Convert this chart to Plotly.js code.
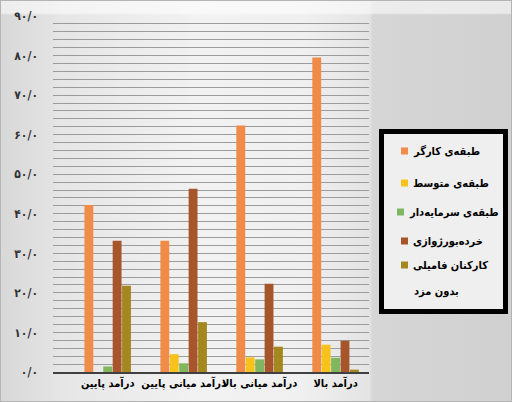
<!DOCTYPE html>
<html>
<head>
<meta charset="utf-8">
<script src="https://cdn.plot.ly/plotly-3.0.1.min.js"></script>
<style>
  html, body { margin: 0; padding: 0; }
  #chart {
    width: 512px; height: 402px; box-sizing: border-box;
    border: 1px solid #b4b4b4;
    background:
      linear-gradient(to bottom, rgba(255,255,255,0.55) 0px, rgba(255,255,255,0.55) 12px, rgba(255,255,255,0) 14px),
      linear-gradient(to right, #d8d8d8 0px, #e2e2e2 48px, #e6e6e6 60px, #f2f2f2 200px, #f0f0f0 300px, #e4e4e4 368px, #d6d6d6 372px, #d0d0d0 512px);
  }
</style>
</head>
<body>
<div id="chart"></div>
<script>
  // ── Datos ────────────────────────────────────────────────────────────────
  const categories = ['درآمد پایین', 'درآمد میانی پایین', 'درآمد میانی بالا', 'درآمد بالا'];

  const seriesNames = [
    'طبقه‌ی کارگر',
    'طبقه‌ی متوسط',
    'طبقه‌ی سرمایه‌دار',
    'خرده‌بورژوازی',
    'کارکنان فامیلی بدون مزد',
  ];
  // el último nombre se parte en dos líneas en la leyenda
  const legendLines = [
    ['طبقه‌ی کارگر'],
    ['طبقه‌ی متوسط'],
    ['طبقه‌ی سرمایه‌دار'],
    ['خرده‌بورژوازی'],
    ['کارکنان فامیلی', 'بدون مزد'],
  ];

  const kargar       = [42.2, 33.2, 62.3, 79.5];
  const motavaset    = [0.0, 4.5, 3.7, 6.9];
  const sarmayedar   = [1.4, 2.2, 3.2, 3.6];
  const khordeh      = [33.2, 46.3, 22.3, 7.9];
  const familyUnpaid = [21.8, 12.6, 6.4, 0.6];

  const tickVals = [0, 10, 20, 30, 40, 50, 60, 70, 80, 90];
  const tickText = ['۰/۰', '۱۰/۰', '۲۰/۰', '۳۰/۰', '۴۰/۰', '۵۰/۰', '۶۰/۰', '۷۰/۰', '۸۰/۰', '۹۰/۰'];

  // ── Estilo ───────────────────────────────────────────────────────────────
  const COLORS = ['#f08b48', '#f8c21c', '#80b75e', '#a6562a', '#a4871f'];
  const FONT = 'DejaVu Sans Condensed, DejaVu Sans, sans-serif';
  const GRID = '#9c9c9c';

  // área de trazado en píxeles (para colocar la leyenda a mano)
  const PLOT = { l: 52, r: 368, t: 15, b: 371 };
  const px2x = (px) => (px - PLOT.l) / (PLOT.r - PLOT.l);
  const px2y = (py) => (PLOT.b - py) / (PLOT.b - PLOT.t);

  const values = [kargar, motavaset, sarmayedar, khordeh, familyUnpaid];

  const traces = values.map((v, i) => ({
    type: 'bar',
    name: seriesNames[i],
    x: categories,
    y: v,
    marker: { color: COLORS[i], line: { width: 0 } },
    hoverinfo: 'skip',
  }));

  // ── Leyenda dibujada a mano (cuadro negro, texto RTL) ────────────────────
  const LEG_ROWS = [150, 182, 211, 240, 264];
  const LEG_LINE2 = 290;
  const shapes = [{
    type: 'rect', xref: 'paper', yref: 'paper',
    x0: px2x(380.5), x1: px2x(504.5), y0: px2y(310.5), y1: px2y(130.5),
    line: { color: '#000', width: 5 }, fillcolor: '#efefef', layer: 'above',
  }];
  const annotations = [];
  legendLines.forEach((lines, i) => {
    const cy = LEG_ROWS[i];
    const sx = i === 2 ? 396 : 400;   // el texto largo empuja su cuadrito a la izquierda
    shapes.push({
      type: 'rect', xref: 'paper', yref: 'paper',
      x0: px2x(sx), x1: px2x(sx + 7), y0: px2y(cy + 3.5), y1: px2y(cy - 3.5),
      line: { width: 0 }, fillcolor: COLORS[i], layer: 'above',
    });
    lines.forEach((txt, k) => {
      annotations.push({
        xref: 'paper', yref: 'paper',
        x: px2x(k === 0 ? sx + 10 : 411), y: px2y(k === 0 ? cy : LEG_LINE2),
        xanchor: 'left', yanchor: 'middle',
        text: txt, showarrow: false,
        font: { family: FONT, size: 11, weight: 'bold', color: '#000' },
      });
    });
  });

  const layout = {
    width: 512,
    height: 402,
    margin: { l: 52, r: 144, t: 15, b: 31, pad: 0, autoexpand: false },
    paper_bgcolor: 'rgba(0,0,0,0)',
    plot_bgcolor: 'rgba(0,0,0,0)',
    font: { family: FONT, size: 12, color: '#000' },
    barmode: 'group',
    bargap: 0.38,
    bargroupgap: 0.06,
    showlegend: false,
    xaxis: {
      type: 'category',
      range: [-0.72, 3.44],
      tickangle: 0,
      showgrid: false,
      showline: true,
      linecolor: '#404040',
      linewidth: 2,
      ticks: '',
      tickfont: { family: FONT, size: 11, weight: 'bold', color: '#000' },
      fixedrange: true,
    },
    yaxis: {
      range: [0, 90],
      tickvals: tickVals,
      ticktext: tickText,
      ticks: '',
      ticklabelstandoff: 14,
      showgrid: true,
      gridcolor: GRID,
      gridwidth: 1,
      zeroline: false,
      showline: false,
      minor: { dtick: 2, showgrid: true, gridcolor: GRID, gridwidth: 1, ticks: '' },
      tickfont: { family: FONT, size: 12, weight: 'bold', color: '#333' },
      fixedrange: true,
    },
    shapes,
    annotations,
  };

  Plotly.newPlot('chart', traces, layout, { displayModeBar: false, staticPlot: true });
</script>
</body>
</html>
